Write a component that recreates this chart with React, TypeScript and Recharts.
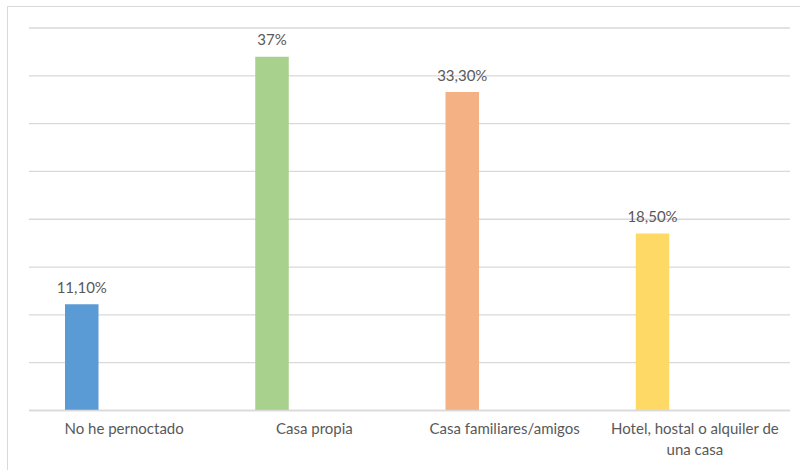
import React from 'react';
import { Bar, BarChart, CartesianGrid, Cell, LabelList, XAxis, YAxis } from 'recharts';

const categories = [
  'No he pernoctado',
  'Casa propia',
  'Casa familiares/amigos',
  'Hotel, hostal o alquiler de una casa',
];
const shares = [11.1, 37, 33.3, 18.5];
const shareLabels = ['11,10%', '37%', '33,30%', '18,50%'];
const barColors = ['#5B9BD5', '#A9D18E', '#F4B183', '#FFD966'];
const yTicks = [0, 5, 10, 15, 20, 25, 30, 35, 40];

const FONT = 'Lato, sans-serif';

const data = categories.map((name, i) => ({
  name,
  value: shares[i],
  label: shareLabels[i],
  // empty second series keeps the bar left of the category centre, as in the original
  blank: null,
}));

// wraps long category names into lines of at most ~27 chars
function wrapWords(text: string, maxChars: number) {
  const words = text.split(' ');
  const lines: string[] = [];
  let line = '';
  words.forEach((w) => {
    const next = line ? `${line} ${w}` : w;
    if (next.length > maxChars && line) {
      lines.push(line);
      line = w;
    } else {
      line = next;
    }
  });
  if (line) lines.push(line);
  return lines;
}

function CategoryTick({ x, y, payload }: any) {
  const lines = wrapWords(payload.value, 27);
  return (
    <text x={x} y={y + 15.5} textAnchor="middle" fill="#595959" fontSize={15} fontFamily={FONT}>
      {lines.map((l, i) => (
        <tspan key={i} x={x} dy={i === 0 ? 0 : 21}>
          {l}
        </tspan>
      ))}
    </text>
  );
}

function ValueLabel({ x, y, width, index }: any) {
  return (
    <text
      x={x + width / 2}
      y={y - 11.5}
      textAnchor="middle"
      fill="#595959"
      fontSize={15}
      fontFamily={FONT}
    >
      {shareLabels[index]}
    </text>
  );
}

export default function App() {
  return (
    <div style={{ position: 'absolute', left: 0, top: 0, width: 800, height: 470, background: '#fff' }}>
      <div
        style={{
          position: 'absolute',
          left: 7,
          top: 6,
          width: 820,
          height: 490,
          border: '1px solid #D9D9D9',
          boxSizing: 'border-box',
        }}
      />
      <BarChart
        width={800}
        height={470}
        data={data}
        margin={{ top: 28, right: 10, bottom: 10, left: 29 }}
        barSize={33.5}
        barGap={51}
        style={{ position: 'absolute', left: 0, top: 0 }}
      >
        <CartesianGrid vertical={false} stroke="#D9D9D9" strokeWidth={1.3} />
        <YAxis hide domain={[0, 40]} ticks={yTicks} />
        <XAxis
          dataKey="name"
          interval={0}
          height={49.5}
          axisLine={{ stroke: '#D9D9D9', strokeWidth: 1.3 }}
          tickLine={false}
          tick={<CategoryTick />}
        />
        <Bar dataKey="value" isAnimationActive={false}>
          {data.map((d, i) => (
            <Cell key={d.name} fill={barColors[i]} />
          ))}
          <LabelList dataKey="label" content={<ValueLabel />} />
        </Bar>
        <Bar dataKey="blank" isAnimationActive={false} fill="none" />
      </BarChart>
    </div>
  );
}
